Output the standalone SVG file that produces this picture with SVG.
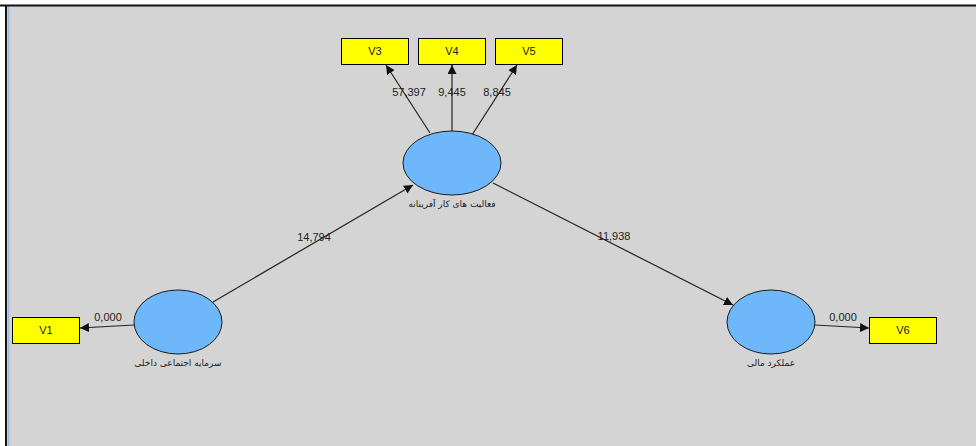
<svg xmlns="http://www.w3.org/2000/svg" width="976" height="446" viewBox="0 0 976 446">
<style>
.bg{fill:#d4d4d4}
.ind{fill:#ffff00;stroke:#000;stroke-width:1}
.lv{fill:#6fb7fb;stroke:#1a1a1a;stroke-width:1}
.t{font-family:"Liberation Sans",Arial,sans-serif;font-size:11px;fill:#222;text-anchor:middle}
.fa{font-family:"DejaVu Sans","Noto Sans",sans-serif;font-size:9px;fill:#222;text-anchor:middle}
.e{stroke:#222;stroke-width:1.2;fill:none;marker-end:url(#ah)}
</style>
<defs>
<marker id="ah" viewBox="0 0 10 10" refX="10" refY="5" markerWidth="9" markerHeight="9" markerUnits="userSpaceOnUse" orient="auto">
<path d="M0,0 L10,5 L0,10 z" fill="#111"/>
</marker>
</defs>
<rect x="0" y="0" width="976" height="446" fill="#ffffff"/>
<rect class="bg" x="6" y="5" width="970" height="441"/>
<line x1="0" y1="5.5" x2="976" y2="5.5" stroke="#111" stroke-width="2"/>
<line x1="6" y1="5" x2="6" y2="446" stroke="#111" stroke-width="2"/>
<line x1="8.5" y1="7" x2="8.5" y2="446" stroke="#9fb8d8" stroke-width="1.5"/>
<g id="connectors">
<line class="e" x1="430" y1="133" x2="386" y2="65"/>
<line class="e" x1="452" y1="131" x2="452" y2="65"/>
<line class="e" x1="472" y1="135" x2="517" y2="65"/>
<line class="e" x1="213" y1="302" x2="413" y2="185"/>
<line class="e" x1="493" y1="183" x2="733" y2="305"/>
<line class="e" x1="134" y1="325" x2="80" y2="328"/>
<line class="e" x1="815" y1="325" x2="869" y2="328"/>
<text class="t" x="409" y="96">57,397</text>
<text class="t" x="452" y="96">9,445</text>
<text class="t" x="497" y="96">8,845</text>
<text class="t" x="314" y="241">14,794</text>
<text class="t" x="614" y="240">11,938</text>
<text class="t" x="108" y="321">0,000</text>
<text class="t" x="843" y="321">0,000</text>
</g>
<g id="V3"><rect class="ind" x="341.5" y="38.5" width="67" height="26"/><text class="t" x="375" y="55">V3</text></g>
<g id="V4"><rect class="ind" x="418.5" y="38.5" width="67" height="26"/><text class="t" x="452" y="55">V4</text></g>
<g id="V5"><rect class="ind" x="495.5" y="38.5" width="67" height="26"/><text class="t" x="529" y="55">V5</text></g>
<g id="V1"><rect class="ind" x="12.5" y="317.5" width="67" height="26"/><text class="t" x="46" y="334">V1</text></g>
<g id="V6"><rect class="ind" x="869.5" y="317.5" width="67" height="26"/><text class="t" x="903" y="334">V6</text></g>
<g id="entrepreneurship"><ellipse class="lv" cx="452" cy="163" rx="49" ry="32"/><text class="fa" x="452" y="207">فعالیت های کار آفرینانه</text></g>
<g id="social-capital"><ellipse class="lv" cx="178" cy="322" rx="44" ry="32"/><text class="fa" x="178" y="366">سرمایه اجتماعی داخلی</text></g>
<g id="financial-performance"><ellipse class="lv" cx="771" cy="322" rx="44" ry="32"/><text class="fa" x="771" y="366">عملکرد مالی</text></g>
</svg>
